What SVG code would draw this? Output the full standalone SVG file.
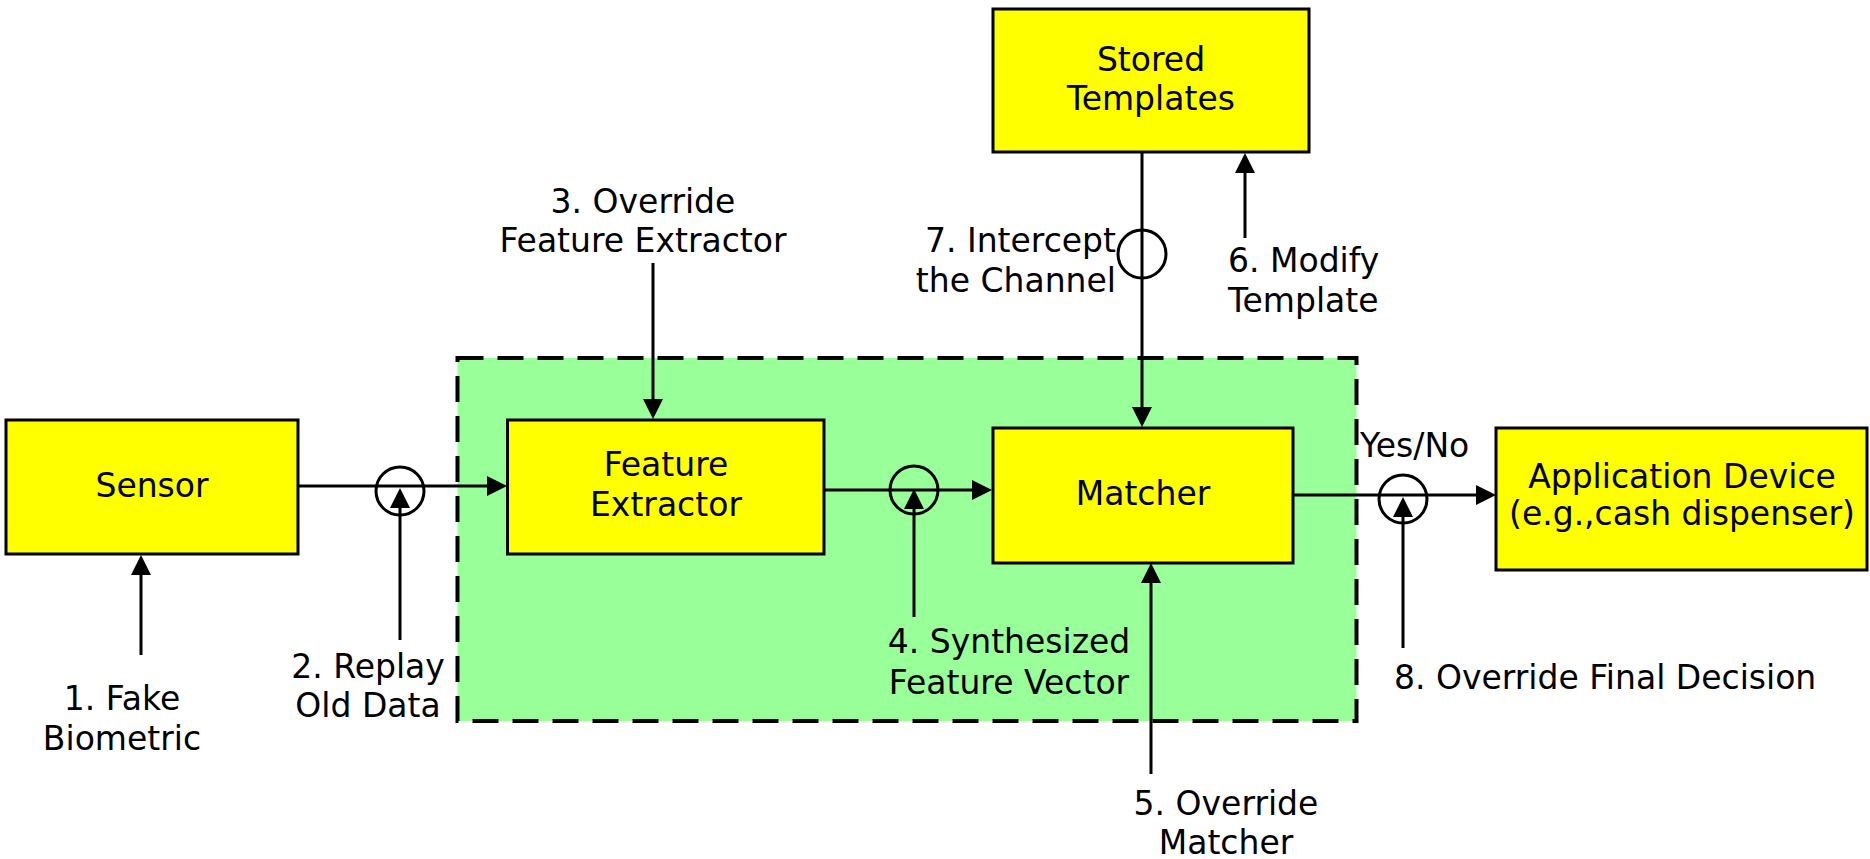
<svg xmlns="http://www.w3.org/2000/svg" width="1870" height="859" viewBox="0 0 1870 859">
<style>
text{font-family:"DejaVu Sans","Verdana",sans-serif;font-size:33px;fill:#000}
.c{text-anchor:middle}
.box{fill:#FFFF00;stroke:#000;stroke-width:3}
.ln{stroke:#000;stroke-width:3;fill:none}
.tap{stroke:#000;stroke-width:3;fill:none}
</style>
<defs>
<marker id="ah" markerUnits="userSpaceOnUse" markerWidth="20" markerHeight="20" viewBox="0 0 20 20" refX="10" refY="10" orient="auto">
<path d="M0,0 L20,10 L0,20 z" fill="#000"/>
</marker>
</defs>
<rect fill="#fff" width="1870" height="859"/>
<g id="subsystem">
<rect x="457.5" y="358" width="899" height="363" fill="#99FF99" stroke="#000" stroke-width="4" stroke-dasharray="26 14"/>
</g>
<g id="sensor">
<rect class="box" x="6" y="420" width="292" height="134"/>
<text class="c" x="152" y="497">Sensor</text>
</g>
<g id="feature-extractor">
<rect class="box" x="507.5" y="420" width="316.5" height="134"/>
<text class="c" x="666" y="476">Feature</text>
<text class="c" x="666" y="516">Extractor</text>
</g>
<g id="matcher">
<rect class="box" x="993" y="428" width="300" height="135"/>
<text class="c" x="1143" y="505">Matcher</text>
</g>
<g id="stored-templates">
<rect class="box" x="993" y="9" width="316" height="143"/>
<text class="c" x="1151" y="71">Stored</text>
<text class="c" x="1151" y="110">Templates</text>
</g>
<g id="application-device">
<rect class="box" x="1496" y="428" width="371" height="142"/>
<text class="c" x="1682" y="488">Application Device</text>
<text class="c" x="1682" y="525">(e.g.,cash dispenser)</text>
</g>
<g id="connectors">
<line class="ln" x1="298" y1="486" x2="497" y2="486" marker-end="url(#ah)"/>
<line class="ln" x1="824" y1="490" x2="982" y2="490" marker-end="url(#ah)"/>
<line class="ln" x1="1293" y1="495" x2="1486" y2="495" marker-end="url(#ah)"/>
<line class="ln" x1="1142" y1="152" x2="1142" y2="417" marker-end="url(#ah)"/>
<circle class="tap" cx="400" cy="491" r="24"/>
<circle class="tap" cx="914" cy="490" r="24"/>
<circle class="tap" cx="1142" cy="254" r="24"/>
<circle class="tap" cx="1403" cy="499" r="24"/>
<line class="ln" x1="141" y1="655" x2="141" y2="565" marker-end="url(#ah)"/>
<line class="ln" x1="400" y1="640" x2="400" y2="498" marker-end="url(#ah)"/>
<line class="ln" x1="653" y1="263" x2="653" y2="409" marker-end="url(#ah)"/>
<line class="ln" x1="914" y1="617" x2="914" y2="499" marker-end="url(#ah)"/>
<line class="ln" x1="1151" y1="774" x2="1151" y2="573" marker-end="url(#ah)"/>
<line class="ln" x1="1245" y1="238" x2="1245" y2="163" marker-end="url(#ah)"/>
<line class="ln" x1="1403" y1="648" x2="1403" y2="507" marker-end="url(#ah)"/>
</g>
<g id="labels">
<text class="c" x="122" y="710">1. Fake</text>
<text class="c" x="122" y="750">Biometric</text>
<text class="c" x="368" y="678">2. Replay</text>
<text class="c" x="368" y="717">Old Data</text>
<text class="c" x="643" y="213">3. Override</text>
<text class="c" x="643" y="252">Feature Extractor</text>
<text class="c" x="1009" y="653">4. Synthesized</text>
<text class="c" x="1009" y="694">Feature Vector</text>
<text class="c" x="1226" y="815">5. Override</text>
<text class="c" x="1226" y="854">Matcher</text>
<text x="1228" y="272">6. Modify</text>
<text x="1228" y="312">Template</text>
<text x="1116" y="252" text-anchor="end">7. Intercept</text>
<text x="1116" y="292" text-anchor="end">the Channel</text>
<text x="1360" y="457">Yes/No</text>
<text x="1394" y="689">8. Override Final Decision</text>
</g>
</svg>
